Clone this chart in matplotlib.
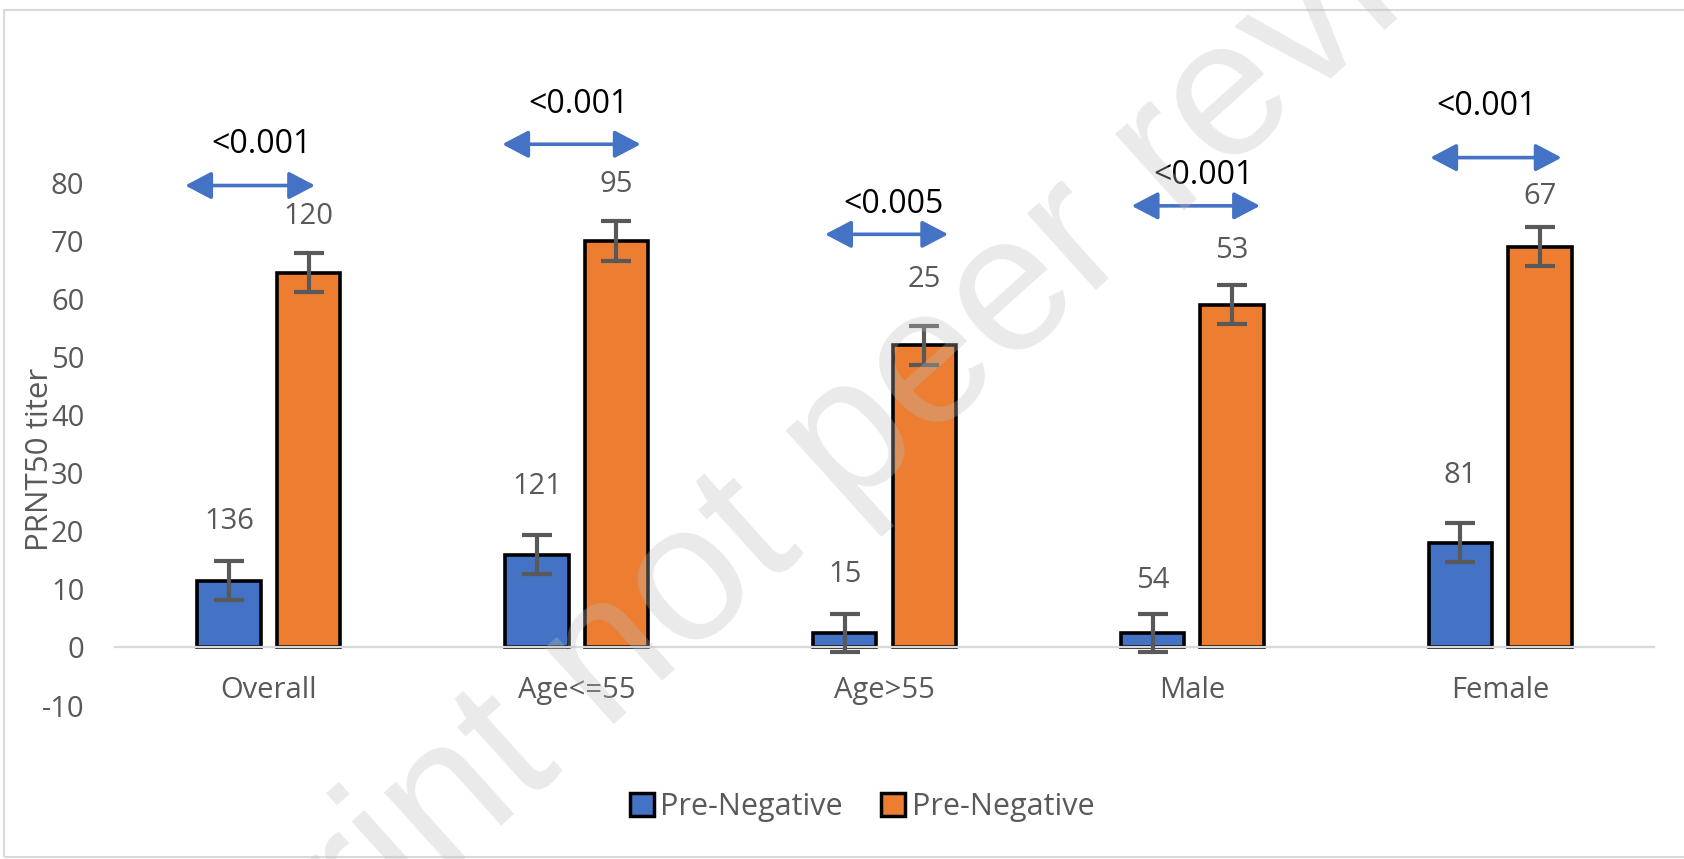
import matplotlib
matplotlib.use("Agg")
import matplotlib.pyplot as plt
from matplotlib.patches import Patch, Rectangle

plt.rcParams['font.family'] = ['Open Sans', 'DejaVu Sans']

# ---- data -------------------------------------------------------------
categories = ["Overall", "Age<=55", "Age>55", "Male", "Female"]
series_names = ["Pre-Negative", "Pre-Negative"]
blue_means = [11.5, 16.0, 2.5, 2.5, 18.0]
blue_err = [3.35, 3.3, 3.3, 3.3, 3.35]
orange_means = [64.5, 70.0, 52.0, 59.0, 69.0]
orange_err = [3.35, 3.45, 3.35, 3.3, 3.35]
blue_n = ["136", "121", "15", "54", "81"]
orange_n = ["120", "95", "25", "53", "67"]
p_values = ["<0.001", "<0.001", "<0.005", "<0.001", "<0.001"]
y_ticks = [-10, 0, 10, 20, 30, 40, 50, 60, 70, 80]

# ---- layout of the annotations (axis units) ----------------------------
blue_n_gap = [6.8, 8.4, 6.8, 5.7, 8.3]
orange_n_gap = [6.4, 6.3, 8.0, 6.0, 5.2]
arrow_y = [79.5, 86.6, 71.1, 76.0, 84.3]
arrow_left = [-0.272, -0.242, -0.193, -0.197, -0.227]
arrow_right = [0.150, 0.208, 0.207, 0.220, 0.200]
p_dx = [-0.025, 0.005, 0.029, 0.035, -0.045]
p_y = [86.6, 93.5, 76.3, 81.2, 93.1]

BLUE = "#4472C4"
ORANGE = "#ED7D31"
GREY_TEXT = "#595959"
GRID = "#D9D9D9"

W, H = 1684, 859
fig = plt.figure(figsize=(W / 100, H / 100), dpi=100)
fig.patch.set_facecolor("white")

# outer chart frame
fig.patches.append(Rectangle((4 / W, 2 / H), 1.2, (H - 12) / H,
                             transform=fig.transFigure, fill=False,
                             edgecolor=GRID, linewidth=1.5))

ax = fig.add_axes([115 / W, 1 - 705.6 / H, 1539 / W, 523 / H])
ax.set_facecolor("none")

x = list(range(len(categories)))
bw = 0.206
off = 0.129
xb = [i - off for i in x]
xo = [i + off for i in x]

ax.bar(xb, blue_means, width=bw, color=BLUE, edgecolor="black",
       linewidth=2.6, zorder=1)
ax.bar(xo, orange_means, width=bw, color=ORANGE, edgecolor="black",
       linewidth=2.6, zorder=1)

ekw = dict(fmt="none", ecolor=GREY_TEXT, elinewidth=3.0, capsize=11,
           capthick=3.0, zorder=4)
ax.errorbar(xb, blue_means, yerr=blue_err, **ekw)
ax.errorbar(xo, orange_means, yerr=orange_err, **ekw)

# group sizes above the bars
for i in x:
    ax.text(xb[i], blue_means[i] + blue_err[i] + blue_n_gap[i], blue_n[i],
            ha="center", va="center", fontsize=21, color=GREY_TEXT)
    ax.text(xo[i], orange_means[i] + orange_err[i] + orange_n_gap[i],
            orange_n[i], ha="center", va="center", fontsize=21,
            color=GREY_TEXT)

# significance arrows and p-values
for i in x:
    ax.annotate("", xy=(i + arrow_right[i], arrow_y[i]),
                xytext=(i + arrow_left[i], arrow_y[i]),
                arrowprops=dict(arrowstyle="<|-|>,head_length=0.8,head_width=0.42",
                                color=BLUE, lw=2.6, mutation_scale=20,
                                shrinkA=0, shrinkB=0),
                annotation_clip=False, zorder=5)
    ax.text(i + p_dx[i], p_y[i], p_values[i], ha="center", va="center",
            fontsize=23, color="black", clip_on=False)

ax.set_xlim(-0.5, len(categories) - 0.5)
ax.set_ylim(-10, 80)
ax.set_yticks(y_ticks)
ax.set_yticklabels([str(t) for t in y_ticks])
ax.set_xticks(x)
ax.set_xticklabels(categories)

for side in ("top", "right", "left"):
    ax.spines[side].set_visible(False)
ax.spines["bottom"].set_position(("data", 0))
ax.spines["bottom"].set_color(GRID)
ax.spines["bottom"].set_linewidth(1.6)
ax.spines["bottom"].set_zorder(2.5)

ax.tick_params(axis="y", length=0, pad=22, labelsize=21, labelcolor=GREY_TEXT)
ax.tick_params(axis="x", length=0, pad=20.5, labelsize=21, labelcolor=GREY_TEXT)

ax.set_ylabel("PRNT50 titer", fontsize=22.5, color=GREY_TEXT, va="center")
ax.yaxis.set_label_coords((40 - 115) / 1539, 0.47)

handles = [Patch(facecolor=BLUE, edgecolor="black", linewidth=2.5),
           Patch(facecolor=ORANGE, edgecolor="black", linewidth=2.5)]
fig.legend(handles, series_names, loc="center", ncol=2,
           bbox_to_anchor=(862 / W, 1 - 807 / H), frameon=False,
           fontsize=22, labelcolor=GREY_TEXT, handlelength=0.78,
           handleheight=0.78, handletextpad=0.22, columnspacing=1.25)

# diagonal watermark
fig.text(880 / W, 1 - 417 / H, "preprint not peer reviewed",
         rotation=42, fontsize=140, family="Liberation Sans",
         color="#bdbdbd", alpha=0.32, ha="center", va="center",
         rotation_mode="anchor", zorder=10)

fig.savefig("out.png", dpi=100, facecolor="white")
